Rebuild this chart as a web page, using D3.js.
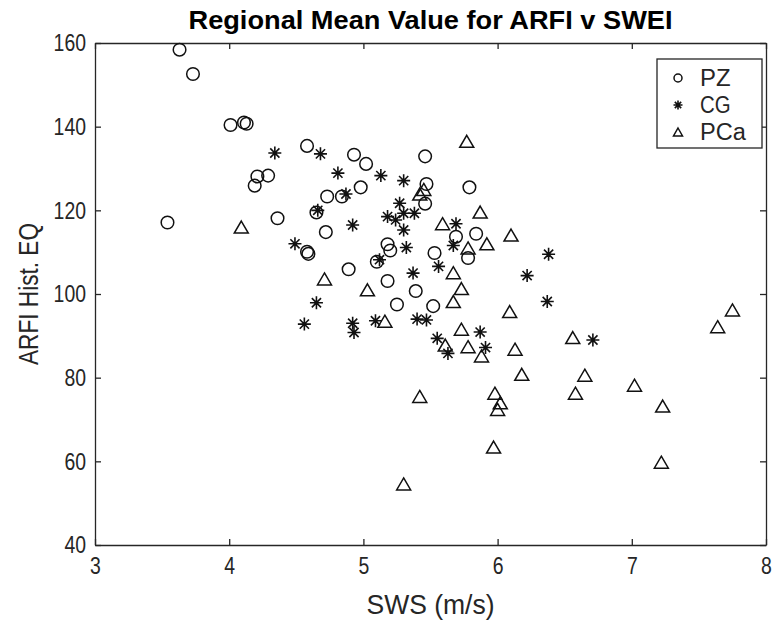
<html lang="en">
<head>
<meta charset="utf-8">
<title>Regional Mean Value for ARFI v SWEI</title>
<script src="https://d3js.org/d3.v7.min.js"></script>
<style>
  body { margin: 0; background: #fff; }
  text { font-family: "Liberation Sans", Arial, sans-serif; fill: #262626; }
</style>
</head>
<body>
<div id="chart"></div>
<script>
// PZ (circles)
var pzX = [3.63, 3.73, 4.01, 4.11, 4.13, 4.58, 4.21, 4.29, 4.19, 4.73, 4.84, 4.65, 3.54, 4.36, 4.72,
           4.93, 5.02, 5.46, 4.98, 5.79, 5.47, 5.46, 5.69, 5.84, 5.78, 4.58, 4.59, 5.18, 5.20, 5.53,
           5.10, 4.89, 5.18, 5.39, 5.25, 5.52];
var pzY = [158.4, 152.6, 140.4, 141.0, 140.7, 135.4, 128.1, 128.3, 125.9, 123.3, 123.3, 119.5, 117.1, 118.1, 114.8,
           133.3, 131.1, 132.9, 125.5, 125.5, 126.3, 121.6, 113.7, 114.4, 108.6, 110.1, 109.6, 111.9, 110.4, 109.8,
           107.7, 105.9, 103.1, 100.7, 97.5, 97.1];
// CG (asterisks)
var cgX = [4.34, 4.68, 4.81, 4.66, 5.13, 5.30, 4.87, 5.27, 5.30, 5.38, 5.18, 5.24, 5.30, 4.92, 5.69,
           5.67, 4.49, 5.32, 5.56, 5.12, 5.37, 6.22, 6.38, 6.37, 4.65, 4.56, 4.92, 4.93, 5.09, 5.40,
           5.47, 5.55, 5.63, 5.87, 5.91, 6.71];
var cgY = [133.7, 133.5, 128.9, 120.0, 128.3, 127.1, 123.9, 121.7, 119.3, 119.3, 118.5, 117.7, 115.3, 116.5, 116.8,
           111.6, 112.0, 111.1, 106.6, 108.2, 105.0, 104.4, 109.5, 98.2, 97.9, 92.8, 93.0, 90.8, 93.6, 94.0,
           93.8, 89.4, 85.8, 90.9, 87.2, 89.0];
// PCa (triangles)
var pcaX = [4.09, 5.77, 5.42, 5.45, 5.59, 5.87, 6.10, 5.92, 5.78, 4.71, 5.67, 5.03, 5.73, 5.67, 6.09,
            5.73, 5.78, 5.88, 6.13, 6.56, 6.18, 6.65, 7.02, 6.58, 5.98, 6.02, 6.00, 7.23, 5.97, 7.22,
            7.64, 7.75, 5.16, 5.61, 5.42, 5.30];
var pcaY = [116.0, 136.5, 123.9, 125.0, 116.8, 119.6, 114.1, 112.0, 111.0, 103.6, 105.1, 101.0, 101.3, 98.2, 95.8,
            91.6, 87.4, 85.2, 86.8, 89.6, 80.8, 80.6, 78.2, 76.3, 76.3, 74.0, 72.4, 73.2, 63.4, 59.8,
            92.2, 96.2, 93.5, 87.8, 75.5, 54.6];

var xTicks = [3, 4, 5, 6, 7, 8];
var yTicks = [40, 60, 80, 100, 120, 140, 160];
var seriesNames = ["PZ", "CG", "PCa"];

var W = 780, H = 625;
var margin = {top: 43, right: 14, bottom: 80, left: 95};
var width = W - margin.left - margin.right,
    height = H - margin.top - margin.bottom;

var svg = d3.select("#chart").append("svg")
    .attr("width", W).attr("height", H);
var g = svg.append("g")
    .attr("transform", "translate(" + margin.left + "," + margin.top + ")");

var x = d3.scaleLinear().domain([3, 8]).range([0, width]);
var y = d3.scaleLinear().domain([40, 160]).range([height, 0]);

// the original text is condensed, so squeeze the glyphs a bit
function squeeze(sel) {
  sel.selectAll("text")
    .style("font-size", "24px")
    .attr("lengthAdjust", "spacingAndGlyphs")
    .attr("textLength", function() { return this.textContent.length * 10.8; });
}

// axes, ticks pointing inward, box on
g.append("g").attr("transform", "translate(0," + height + ")")
  .call(d3.axisBottom(x).tickValues(xTicks).tickFormat(d3.format("d"))
    .tickSizeInner(-6).tickSizeOuter(0).tickPadding(12))
  .call(squeeze);
g.append("g")
  .call(d3.axisLeft(y).tickValues(yTicks).tickFormat(d3.format("d"))
    .tickSizeInner(-6).tickSizeOuter(0).tickPadding(9))
  .call(squeeze);
g.append("g")
  .call(d3.axisTop(x).tickValues(xTicks).tickSizeInner(-6).tickSizeOuter(0).tickFormat(""));
g.append("g").attr("transform", "translate(" + width + ",0)")
  .call(d3.axisRight(y).tickValues(yTicks).tickSizeInner(-6).tickSizeOuter(0).tickFormat(""));
g.selectAll(".domain, .tick line").attr("stroke", "#262626").attr("stroke-width", 1.3);

// labels
svg.append("text").attr("x", margin.left + width / 2).attr("y", 29)
  .attr("text-anchor", "middle").style("font-size", "26px").style("font-weight", "bold")
  .style("fill", "#000").attr("lengthAdjust", "spacingAndGlyphs").attr("textLength", 484)
  .text("Regional Mean Value for ARFI v SWEI");
svg.append("text").attr("x", margin.left + width / 2).attr("y", 614)
  .attr("text-anchor", "middle").style("font-size", "27px")
  .attr("lengthAdjust", "spacingAndGlyphs").attr("textLength", 128).text("SWS (m/s)");
svg.append("text").attr("transform", "translate(38," + (margin.top + height / 2) + ") rotate(-90)")
  .attr("text-anchor", "middle").style("font-size", "27px")
  .attr("lengthAdjust", "spacingAndGlyphs").attr("textLength", 142).text("ARFI Hist. EQ");

// marker helpers
function star(s) {
  var r = s / 2, d = r * 0.7071;
  return "M" + (-r) + ",0L" + r + ",0M0," + (-r) + "L0," + r +
         "M" + (-d) + "," + (-d) + "L" + d + "," + d + "M" + (-d) + "," + d + "L" + d + "," + (-d);
}
function tri(w, h) {
  return "M0," + (-h / 2) + "L" + (w / 2) + "," + (h / 2) + "L" + (-w / 2) + "," + (h / 2) + "Z";
}

var pz = d3.zip(pzX, pzY), cg = d3.zip(cgX, cgY), pca = d3.zip(pcaX, pcaY);

g.selectAll(".pz").data(pz).enter().append("circle")
  .attr("cx", function(d) { return x(d[0]); })
  .attr("cy", function(d) { return y(d[1]); })
  .attr("r", 6.3).attr("fill", "none").attr("stroke", "#111").attr("stroke-width", 1.5);

g.selectAll(".cg").data(cg).enter().append("path")
  .attr("transform", function(d) { return "translate(" + x(d[0]) + "," + y(d[1]) + ")"; })
  .attr("d", star(13)).attr("fill", "none").attr("stroke", "#111").attr("stroke-width", 1.6);

g.selectAll(".pca").data(pca).enter().append("path")
  .attr("transform", function(d) { return "translate(" + x(d[0]) + "," + y(d[1]) + ")"; })
  .attr("d", tri(14, 12)).attr("fill", "none").attr("stroke", "#111").attr("stroke-width", 1.5);

// legend
var lg = svg.append("g").attr("transform", "translate(657,59)");
lg.append("rect").attr("width", 105).attr("height", 89)
  .attr("fill", "#fff").attr("stroke", "#262626").attr("stroke-width", 1.3);
var rows = [19, 46, 73];
seriesNames.forEach(function(name, i) {
  var row = lg.append("g").attr("transform", "translate(21," + rows[i] + ")");
  if (i === 0) row.append("circle").attr("r", 4).attr("fill", "none").attr("stroke", "#111").attr("stroke-width", 1.5);
  if (i === 1) row.append("path").attr("d", star(9)).attr("stroke", "#111").attr("stroke-width", 1.6);
  if (i === 2) row.append("path").attr("d", tri(9, 8)).attr("fill", "none").attr("stroke", "#111").attr("stroke-width", 1.5);
  row.append("text").attr("x", 22).attr("y", 8).style("font-size", "23px")
    .attr("lengthAdjust", "spacingAndGlyphs").attr("textLength", name.length * 15.3).text(name);
});
</script>
</body>
</html>
